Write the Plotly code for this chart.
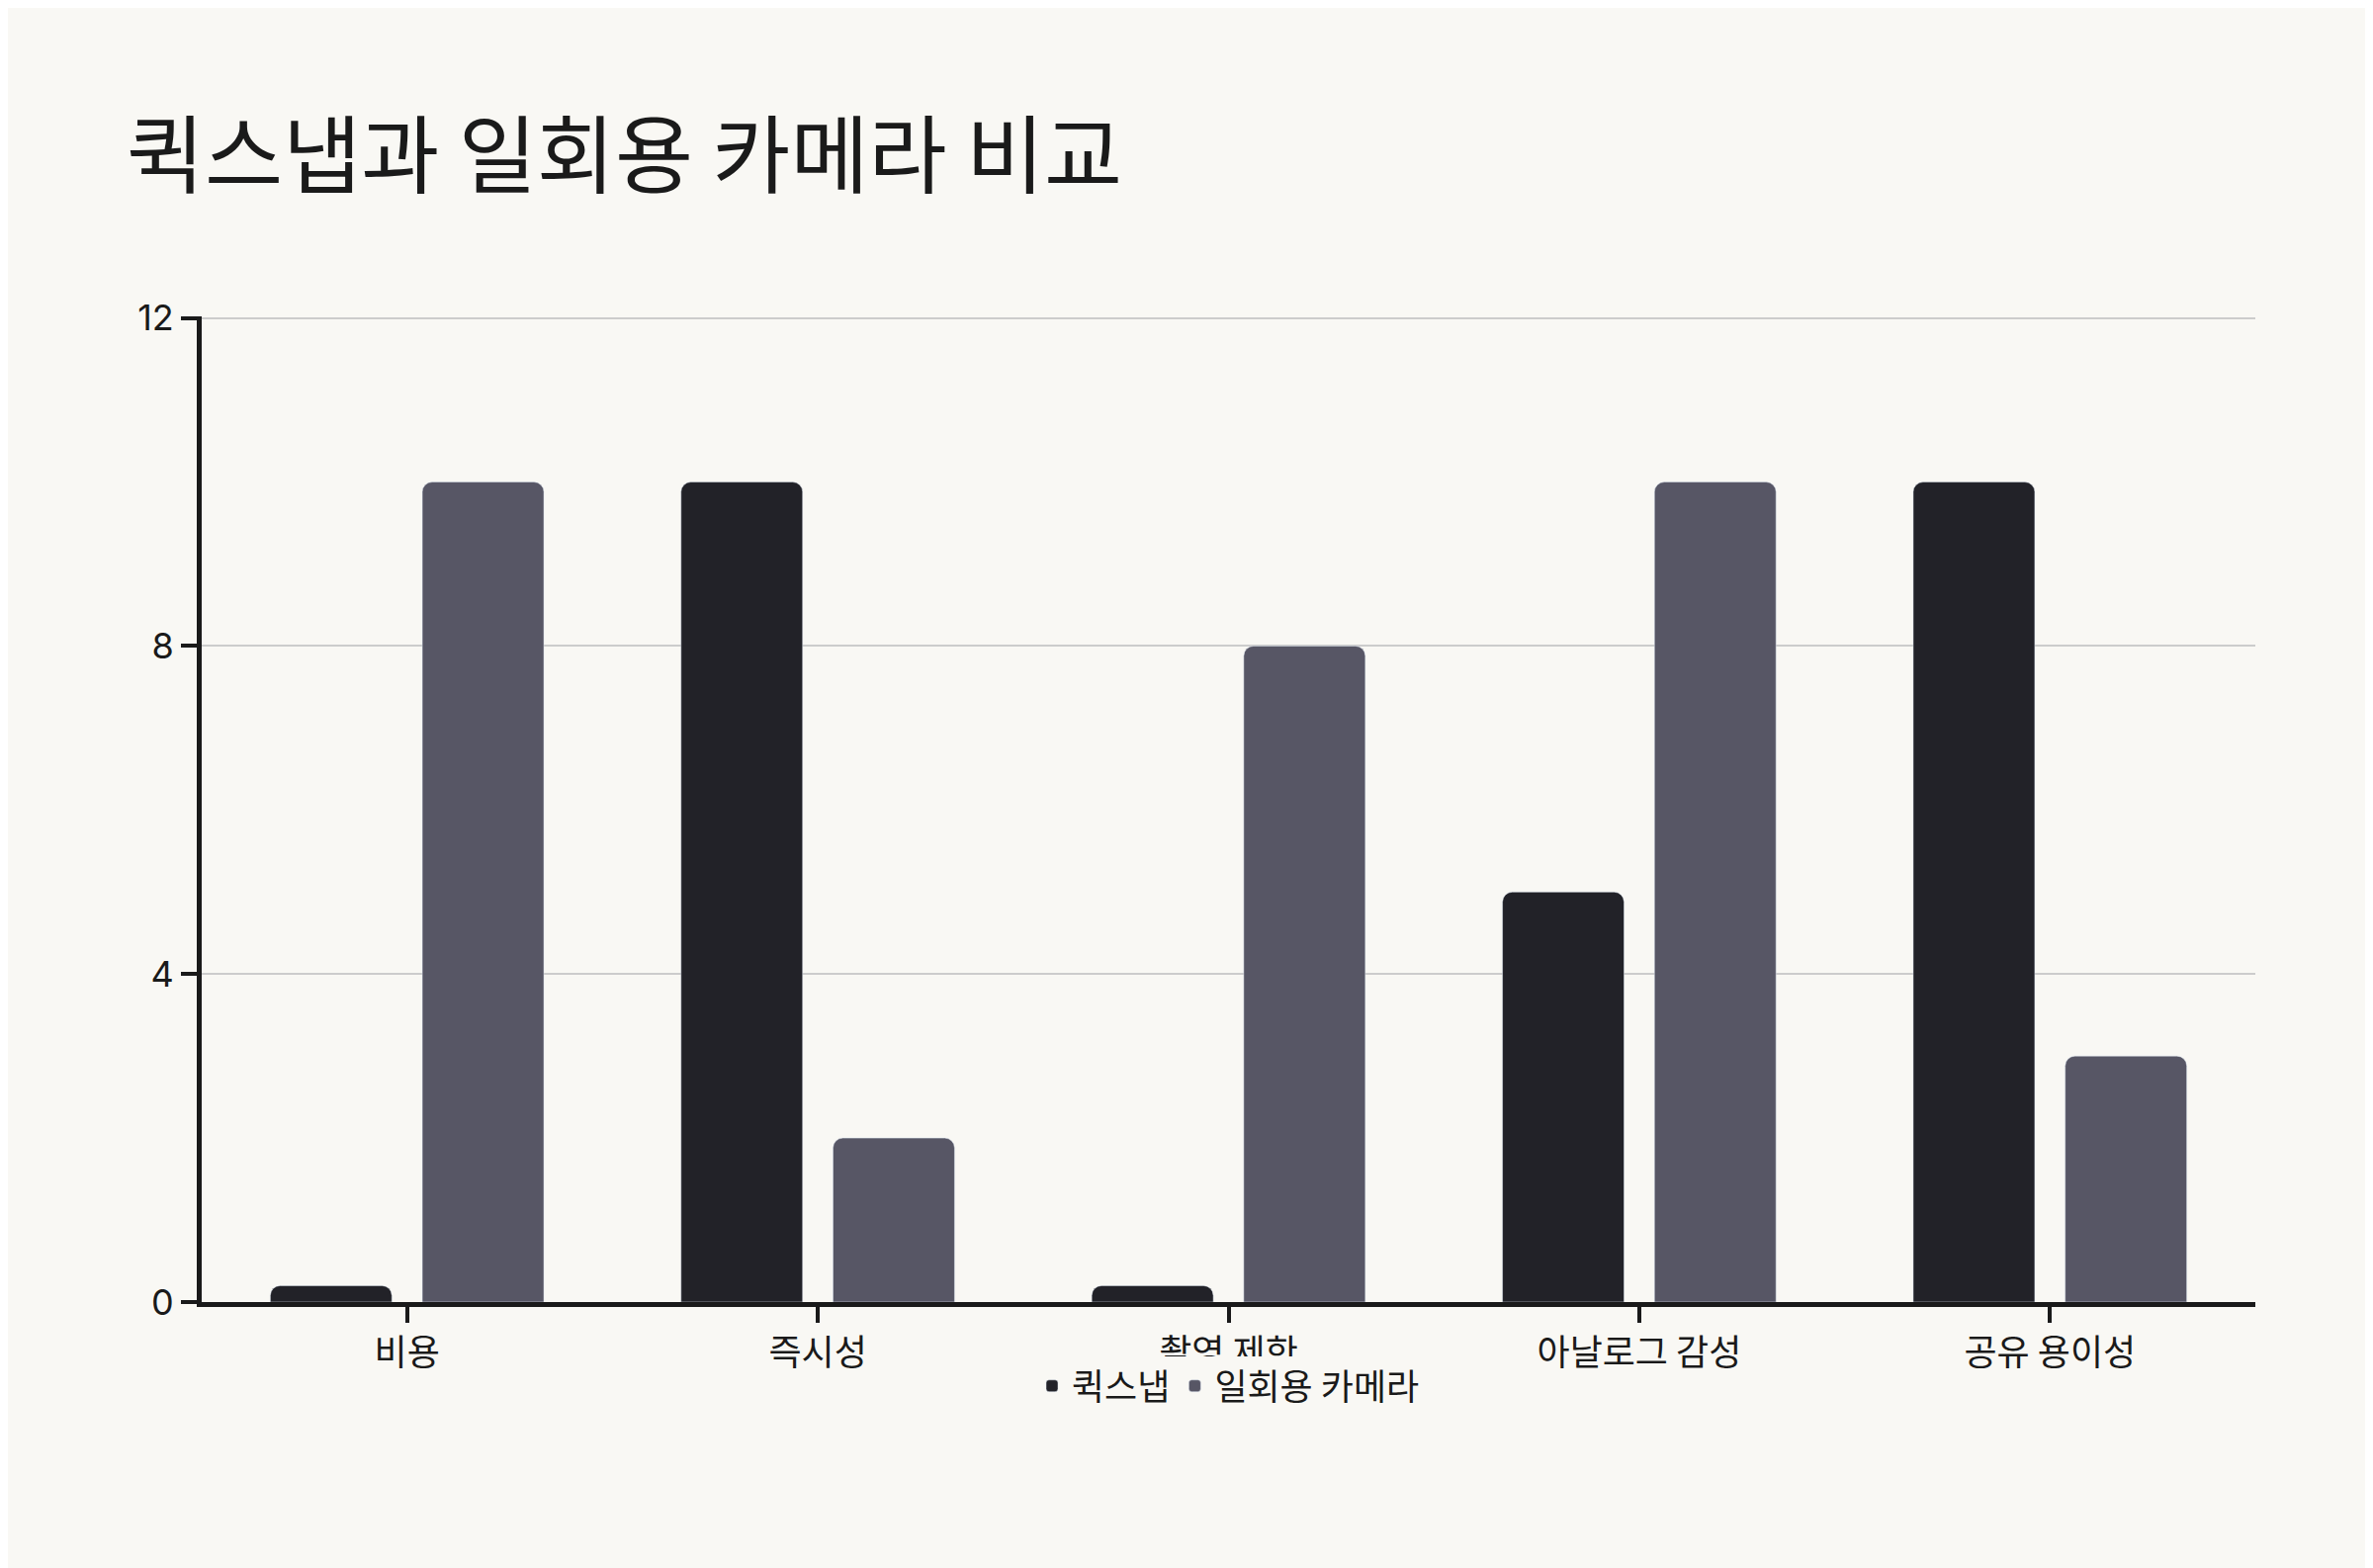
import plotly.graph_objects as go

categories = ["비용", "즉시성", "촬영 제한", "아날로그 감성", "공유 용이성"]
quicksnap = [0.2, 10, 0.2, 5, 10]
disposable = [10, 2, 8, 10, 3]
series_names = ["퀵스냅", "일회용 카메라"]
colors = ["#222228", "#575665"]

fig = go.Figure()
fig.add_bar(x=categories, y=quicksnap, name=series_names[0], marker_color=colors[0])
fig.add_bar(x=categories, y=disposable, name=series_names[1], marker_color=colors[1])

font = "Inter, Noto Sans CJK KR, sans-serif"
fig.update_layout(
    width=2400, height=1586,
    paper_bgcolor="#f9f8f4", plot_bgcolor="#f9f8f4",
    font=dict(family=font, size=36, color="#1a1a1a"),
    title=dict(text="퀵스냅과 일회용 카메라 비교", x=0.05, xanchor="left", y=0.905, yanchor="middle",
               font=dict(size=86, family="Noto Sans CJK KR", color="#1a1a1a")),
    margin=dict(l=196, r=127, t=312, b=277),
    barmode="group", bargap=0.26, bargroupgap=0.2, barcornerradius=10,
    showlegend=True,
    legend=dict(orientation="h", x=0.5, xanchor="center", y=-0.055, yanchor="top",
                font=dict(size=36, family="Noto Sans CJK KR")),
    xaxis=dict(showline=True, linecolor="#1a1a1a", linewidth=5, ticks="outside",
               ticklen=16, tickwidth=4, tickcolor="#1a1a1a",
               tickfont=dict(family="Noto Sans CJK KR", size=36)),
    yaxis=dict(range=[0, 12.02], tickvals=[0, 4, 8, 12], showline=True, linecolor="#1a1a1a",
               linewidth=5, ticks="outside", ticklen=16, tickwidth=4, tickcolor="#1a1a1a",
               showgrid=True, gridcolor="#cccccc", gridwidth=2, zeroline=False),
)
fig.write_html("out.html")
